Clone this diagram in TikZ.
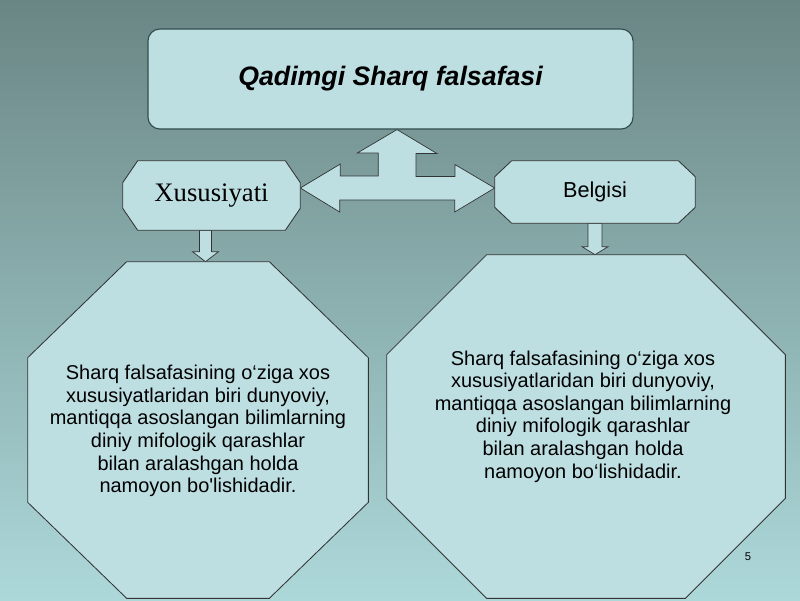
\documentclass[tikz,border=0pt]{standalone}
\usepackage{fontspec}
\setmainfont{Liberation Sans}
\newfontfamily\serifhead{Liberation Serif}
\usetikzlibrary{positioning,calc,backgrounds}
\definecolor{bgtop}{HTML}{6A8684}
\definecolor{bgmid}{HTML}{85A5A5}
\definecolor{bgbot}{HTML}{ADD8DA}
\definecolor{boxfill}{HTML}{BEDFE2}
\definecolor{titleline}{HTML}{2F4B4B}
\tikzset{boxline/.style={draw=black!80, line width=0.6pt, fill=boxfill}}
\tikzset{fatarrow/.style={draw=black!80, line width=0.5pt, fill=boxfill}}
% chamfered outline round an (empty) frame node: name, dx, dy in px
\newcommand{\chamf}[3]{%
  \draw[boxline] ($(#1.north west)+(#2,0)$) -- ($(#1.north east)+(-#2,0)$)
    -- ($(#1.north east)+(0,#3)$) -- ($(#1.south east)+(0,-#3)$)
    -- ($(#1.south east)+(-#2,0)$) -- ($(#1.south west)+(#2,0)$)
    -- ($(#1.south west)+(0,-#3)$) -- ($(#1.north west)+(0,#3)$) -- cycle;}

\begin{document}
\begin{tikzpicture}[x=0.025cm,y=-0.025cm]
\tikzstyle{frame} = [rectangle, inner sep=0pt, text centered]
\tikzstyle{bodytext} = [align=center, inner sep=0pt, font=\fontsize{14.2}{16.1}\selectfont]

\begin{scope}[on background layer]
    \shade[top color=bgtop, middle color=bgmid, bottom color=bgbot] (0,0) rectangle (800,600);
\end{scope}
\useasboundingbox (0,0) rectangle (800,600);

% blocks
    \node [frame, draw=titleline, line width=0.8pt, fill=boxfill, rounded corners=0.3cm,
        minimum width=12.125cm, minimum height=2.5cm,
        font=\fontsize{19}{22}\selectfont\bfseries\itshape] (title) at (390.5,79) {Qadimgi Sharq falsafasi};
    \node [frame, minimum width=4.425cm, minimum height=1.725cm,
        font=\serifhead\fontsize{19}{22}\selectfont] (xus) at (211.5,195.5) {Xususiyati};
    \node [frame, minimum width=5cm, minimum height=1.55cm,
        font=\fontsize{15.4}{18}\selectfont] (bel) at (595,192) {Belgisi};
    \node [frame, minimum width=8.5cm, minimum height=8.4cm] (octL) at (198,430) {};
    \node [frame, minimum width=9.95cm, minimum height=8.575cm] (octR) at (586,426.5) {};
    \node [bodytext] (txtL) at ($(octL.center)+(0,1)$) {Sharq falsafasining o‘ziga xos\\
        xususiyatlaridan biri dunyoviy,\\
        mantiqqa asoslangan bilimlarning\\
        diniy mifologik qarashlar\\
        bilan aralashgan holda\\
        namoyon bo\textquotesingle lishidadir.};
    \node [bodytext] (txtR) at ($(octR.center)+(-3,-10)$) {Sharq falsafasining o‘ziga xos\\
        xususiyatlaridan biri dunyoviy,\\
        mantiqqa asoslangan bilimlarning\\
        diniy mifologik qarashlar\\
        bilan aralashgan holda\\
        namoyon bo‘lishidadir.};
    \node [font=\fontsize{8}{9}\selectfont, inner sep=0pt] (pnum) at (748,557) {5};

\begin{scope}[on background layer]
% arrows
    \coordinate (hub) at (397,188);
    \path [fatarrow] (xus.east |- hub) -- ++(40,-24) -- ++(0,12) -- ++(38,0) -- ++(0,-23)
        -- ++(-21,0) -- (hub |- title.south) -- ++(40,24) -- ++(-21,0) -- ++(0,23)
        -- ++(39,0) -- ++(0,-12) -- (bel.west |- hub) -- ++(-40,24) -- ++(0,-12)
        -- ++(-115,0) -- ++(0,12) -- cycle;
    \coordinate (a1) at ($(xus.south)+(-6,0)$);
    \coordinate (a2) at (bel.south);
    \path [fatarrow] ($(a1)+(-6,0)$) -- ($(a1 |- octL.north)+(-6,-10)$) -- ++(-7,0)
        -- (a1 |- octL.north) -- ++(13,-10) -- ++(-7,0) -- ($(a1)+(6,0)$) -- cycle;
    \path [fatarrow] ($(a2)+(-7,0)$) -- ($(a2 |- octR.north)+(-7,-8)$) -- ++(-6,0)
        -- (a2 |- octR.north) -- ++(13,-8) -- ++(-6,0) -- ($(a2)+(7,0)$) -- cycle;
% chamfered boxes
    \chamf{xus}{15}{22}
    \chamf{bel}{17}{16}
    \chamf{octL}{99}{96}
    \chamf{octR}{100}{100}
\end{scope}
\end{tikzpicture}
\end{document}
